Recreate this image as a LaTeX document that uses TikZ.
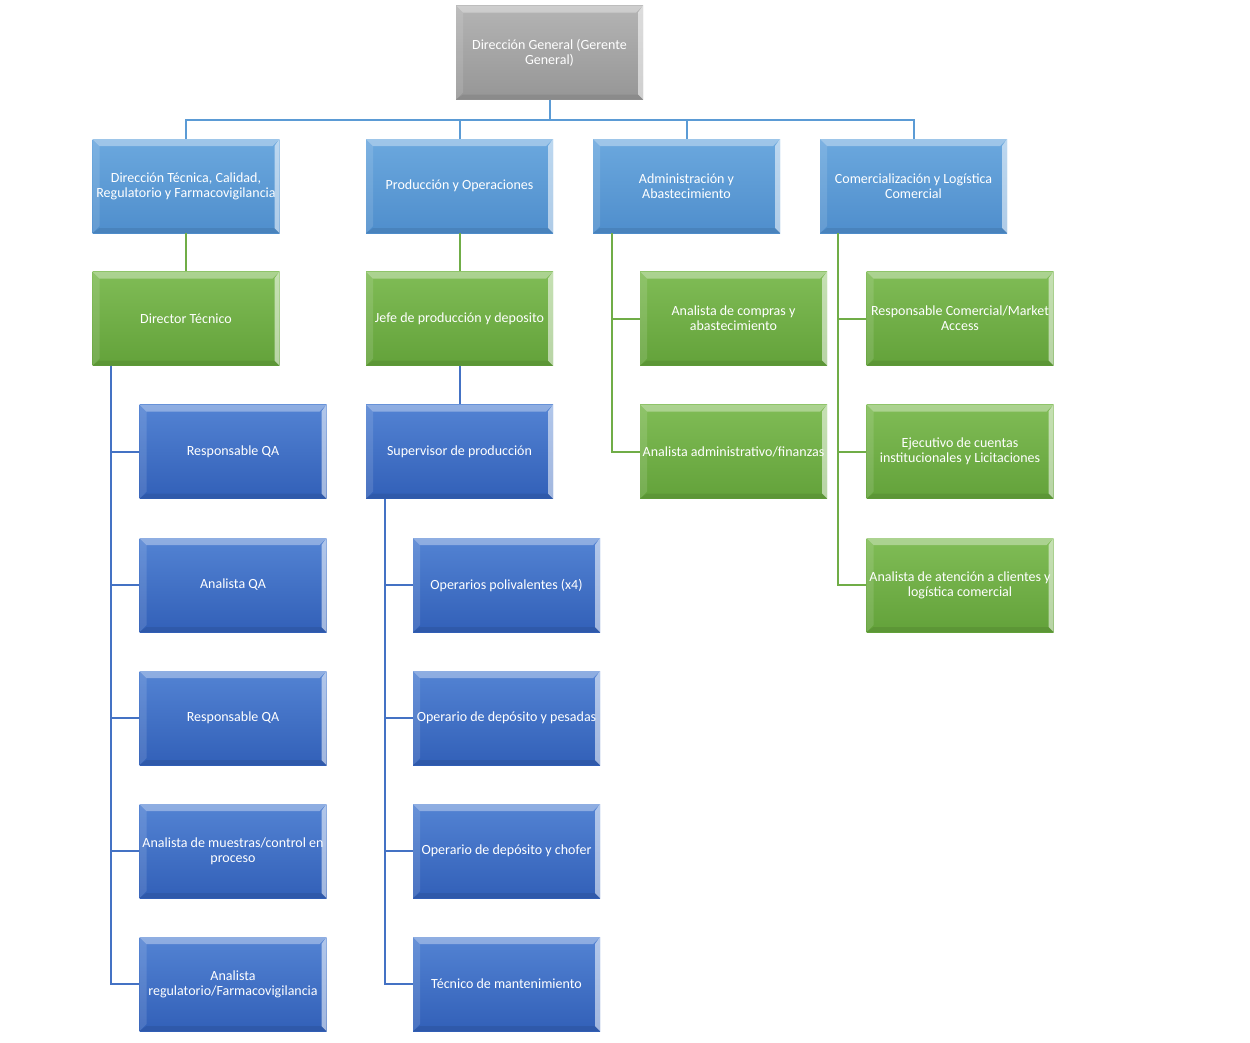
\documentclass[tikz,border=0pt]{standalone}
\usepackage{fontspec}
\setmainfont{Carlito}
\usepackage{tikz}

\definecolor{grisA}{HTML}{B4B4B4}
\definecolor{grisB}{HTML}{969696}
\definecolor{celesteA}{HTML}{6BA8DE}
\definecolor{celesteB}{HTML}{4F8ECC}
\definecolor{verdeA}{HTML}{80BC56}
\definecolor{verdeB}{HTML}{63A23A}
\definecolor{azulA}{HTML}{5383D3}
\definecolor{azulB}{HTML}{3260B8}
\definecolor{lineaceleste}{HTML}{5B9BD5}
\definecolor{lineaverde}{HTML}{70AD47}
\definecolor{lineaazul}{HTML}{4472C4}

\tikzset{
  bevel/.style={path picture={
    \coordinate (nw) at (path picture bounding box.north west);
    \coordinate (ne) at (path picture bounding box.north east);
    \coordinate (sw) at (path picture bounding box.south west);
    \coordinate (se) at (path picture bounding box.south east);
    % borde superior
    \fill[white,opacity=.35] (nw) -- (ne) -- ([xshift=-7pt,yshift=-7pt]ne) -- ([xshift=7pt,yshift=-7pt]nw) -- cycle;
    % borde izquierdo
    \fill[white,opacity=.12] (nw) -- ([xshift=7pt,yshift=-7pt]nw) -- ([xshift=7pt,yshift=7pt]sw) -- (sw) -- cycle;
    % borde derecho
    \fill[white,opacity=.55] (ne) -- ([xshift=-5pt,yshift=-7pt]ne) -- ([xshift=-5pt,yshift=5pt]se) -- (se) -- cycle;
    % borde inferior
    \fill[black,opacity=.08] (sw) -- ([xshift=7pt,yshift=5pt]sw) -- ([xshift=-5pt,yshift=5pt]se) -- (se) -- cycle;
  }},
  cargo/.style={rectangle, minimum width=187pt, minimum height=94pt,
    text width=187pt, inner sep=0pt, align=flush center, text=white,
    font=\fontsize{14}{15}\selectfont, bevel},
  gerencia/.style={cargo, top color=grisA, bottom color=grisB},
  area/.style={cargo, top color=celesteA, bottom color=celesteB},
  jefatura/.style={cargo, top color=verdeA, bottom color=verdeB},
  puesto/.style={cargo, top color=azulA, bottom color=azulB},
  enlace/.style={line width=2pt},
}

\begin{document}
\begin{tikzpicture}[x=1pt, y=-1pt]
\useasboundingbox (0,0) rectangle (1250,1042);

% nivel 0
\node[gerencia] (dg) at (549.5,52.5) {Dirección General (Gerente\\General)};

% nivel 1
\node[area] (dtc) at (186,186) {Dirección Técnica, Calidad,\\Regulatorio y Farmacovigilancia};
\node[area] (prod) at (459.5,186) {Producción y Operaciones};
\node[area] (adm) at (686.5,186) {Administración y\\Abastecimiento};
\node[area] (com) at (913.5,186) {Comercialización y Logística\\Comercial};

% nivel 2
\node[jefatura] (dt) at (186,318.5) {Director Técnico};
\node[jefatura] (jp) at (459.5,318.5) {Jefe de producción y deposito};
\node[jefatura] (compras) at (733.5,318.5) {Analista de compras y\\abastecimiento};
\node[jefatura] (admfin) at (733.5,451.5) {Analista administrativo/finanzas};
\node[jefatura] (rcom) at (960,318.5) {Responsable Comercial/Market\\Access};
\node[jefatura] (ejec) at (960,451.5) {Ejecutivo de cuentas\\institucionales y Licitaciones};
\node[jefatura] (aten) at (960,585) {Analista de atención a clientes y\\logística comercial};

% nivel 3
\node[puesto] (rqa1) at (233,451.5) {Responsable QA};
\node[puesto] (aqa) at (233,585) {Analista QA};
\node[puesto] (rqa2) at (233,718) {Responsable QA};
\node[puesto] (amu) at (233,851) {Analista de muestras/control en\\proceso};
\node[puesto] (areg) at (233,984) {Analista\\regulatorio/Farmacovigilancia};

\node[puesto] (sup) at (459.5,451.5) {Supervisor de producción};
\node[puesto] (opp) at (506.5,585) {Operarios polivalentes (x4)};
\node[puesto] (odp) at (506.5,718) {Operario de depósito y pesadas};
\node[puesto] (odc) at (506.5,851) {Operario de depósito y chofer};
\node[puesto] (tm) at (506.5,984) {Técnico de mantenimiento};

% conectores
\foreach \n in {dtc,prod,adm,com}
  \draw[enlace, lineaceleste] (dg.south) -- ++(0,20) -| (\n.north);

\draw[enlace, lineaverde] (dtc.south) -- (dt.north);
\draw[enlace, lineaverde] (prod.south) -- (jp.north);
\foreach \n in {compras,admfin}
  \draw[enlace, lineaverde] ([xshift=19pt]adm.south west) |- (\n.west);
\foreach \n in {rcom,ejec,aten}
  \draw[enlace, lineaverde] ([xshift=18pt]com.south west) |- (\n.west);

\foreach \n in {rqa1,aqa,rqa2,amu,areg}
  \draw[enlace, lineaazul] ([xshift=19pt]dt.south west) |- (\n.west);
\draw[enlace, lineaazul] (jp.south) -- (sup.north);
\foreach \n in {opp,odp,odc,tm}
  \draw[enlace, lineaazul] ([xshift=19pt]sup.south west) |- (\n.west);

\end{tikzpicture}
\end{document}
